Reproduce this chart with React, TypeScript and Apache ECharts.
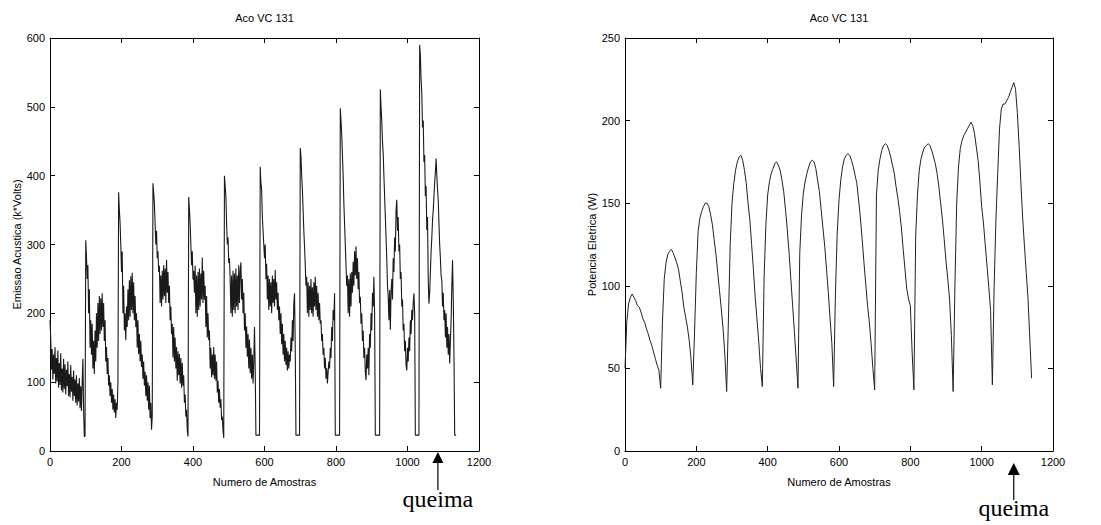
import React, { useEffect, useRef } from "react";
import * as echarts from "echarts";

// ---- data ----
const titulo = "Aco VC 131";
const eixoX = "Numero de Amostras";
const eixoYEsq = "Emissao Acustica (k*Volts)";
const eixoYDir = "Potencia Eletrica (W)";
const anotacao = "queima";

const xMin = 0;
const xMax = 1200;
const xInterval = 200;
const yEsqMax = 600;
const yEsqInterval = 100;
const yDirMax = 250;
const yDirInterval = 50;

// sample number of each arrow
const queimaEsq = 1085;
const queimaDir = 1090;

// Emissao acustica, one value every 2 samples (sample 0, 2, 4, ...)
const passoEmissao = 2;
const emissaoAcustica = [
  190, 165, 118, 148, 104, 140, 112, 151, 98, 135,
  101, 146, 92, 128, 96, 142, 88, 120, 85, 134,
  90, 126, 82, 118, 94, 130, 80, 112, 78, 125,
  86, 108, 73, 117, 80, 104, 70, 110, 66, 98,
  72, 106, 62, 94, 58, 100, 134, 60, 21, 21,
  306, 283, 250, 270, 200, 235, 150, 190, 140, 185,
  120, 160, 112, 175, 130, 200, 150, 215, 160, 225,
  170, 222, 175, 229, 180, 215, 160, 190, 130, 151,
  112, 135, 95, 110, 80, 100, 70, 90, 60, 82,
  56, 75, 48, 70, 60, 100, 376, 350, 332, 300,
  260, 290, 200, 240, 175, 200, 161, 210, 180, 235,
  190, 248, 195, 254, 205, 259, 200, 245, 190, 225,
  180, 200, 150, 190, 141, 170, 130, 160, 122, 140,
  105, 130, 95, 115, 80, 110, 73, 100, 60, 95,
  48, 70, 31, 50, 389, 376, 360, 330, 300, 320,
  280, 290, 260, 269, 215, 255, 210, 262, 220, 270,
  225, 265, 215, 278, 230, 260, 215, 240, 190, 210,
  170, 185, 136, 180, 130, 165, 120, 151, 102, 145,
  110, 141, 98, 135, 92, 128, 95, 110, 70, 82,
  50, 60, 30, 21, 369, 352, 330, 300, 270, 290,
  249, 262, 230, 269, 200, 255, 195, 260, 205, 265,
  210, 258, 220, 281, 215, 262, 220, 240, 180, 225,
  165, 200, 161, 175, 120, 150, 107, 140, 110, 151,
  105, 140, 102, 130, 85, 102, 70, 90, 63, 75,
  45, 50, 30, 19, 400, 385, 370, 330, 300, 310,
  273, 280, 249, 200, 255, 195, 262, 205, 258, 200,
  265, 210, 255, 205, 270, 215, 262, 274, 220, 250,
  200, 230, 175, 200, 150, 181, 137, 170, 120, 162,
  113, 150, 105, 140, 98, 130, 180, 120, 23, 23,
  23, 23, 23, 23, 413, 390, 379, 340, 320, 300,
  280, 300, 250, 272, 220, 255, 205, 250, 210, 245,
  200, 255, 215, 250, 210, 263, 220, 245, 205, 230,
  190, 210, 170, 200, 155, 185, 140, 170, 130, 160,
  125, 150, 117, 145, 120, 140, 130, 165, 145, 190,
  160, 215, 229, 150, 23, 23, 23, 23, 23, 23,
  440, 428, 400, 380, 350, 320, 297, 270, 240, 253,
  200, 245, 195, 240, 205, 250, 200, 238, 195, 245,
  210, 253, 205, 240, 195, 230, 190, 215, 185, 190,
  160, 170, 140, 150, 120, 135, 105, 120, 98, 115,
  130, 120, 150, 135, 180, 160, 205, 190, 229, 23,
  23, 23, 23, 23, 23, 23, 498, 480, 460, 430,
  400, 360, 330, 300, 270, 240, 255, 200, 250, 195,
  258, 210, 260, 230, 275, 240, 290, 255, 297, 250,
  280, 235, 260, 215, 224, 185, 200, 160, 175, 135,
  150, 115, 103, 140, 120, 150, 110, 170, 150, 200,
  175, 230, 210, 253, 200, 23, 23, 23, 23, 23,
  23, 23, 525, 500, 480, 450, 433, 400, 370, 340,
  310, 280, 240, 224, 190, 234, 176, 230, 250, 220,
  280, 260, 310, 290, 350, 365, 320, 340, 290, 300,
  250, 260, 210, 220, 175, 185, 145, 160, 125, 117,
  150, 130, 165, 145, 190, 170, 205, 190, 215, 229,
  200, 23, 23, 23, 23, 23, 23, 590, 575, 540,
  520, 470, 480, 420, 430, 370, 385, 321, 340, 250,
  214, 230, 260, 290, 310, 335, 350, 370, 390, 405,
  425, 400, 380, 365, 330, 300, 280, 255, 248, 210,
  230, 190, 205, 165, 200, 150, 180, 140, 170, 127,
  160, 190, 240, 277, 220, 140, 23, 23, 23,
];

// Potencia eletrica, one value every 5 samples (sample 0, 5, 10, ...)
const passoPotencia = 5;
const potenciaEletrica = [
  50, 78, 89, 93, 95, 93, 91, 88, 87, 84,
  80, 78, 74, 71, 67, 64, 60, 56, 52, 49,
  38, 78, 104, 114, 119, 121, 122, 120, 117, 114,
  110, 103, 96, 87, 81, 75, 67, 56, 40, 72,
  108, 133, 141, 145, 148, 150, 150, 148, 143, 137,
  128, 119, 108, 97, 86, 74, 58, 36, 80, 125,
  150, 162, 170, 175, 178, 179, 176, 170, 162, 150,
  140, 125, 110, 93, 80, 66, 50, 39, 105, 137,
  155, 163, 168, 171, 174, 175, 173, 170, 164, 157,
  146, 134, 120, 104, 88, 72, 55, 38, 120, 143,
  156, 163, 168, 172, 175, 176, 175, 171, 164, 157,
  146, 135, 124, 110, 96, 80, 65, 39, 95, 132,
  152, 164, 172, 177, 179, 180, 179, 176, 172, 167,
  162, 152, 141, 128, 114, 101, 88, 78, 65, 50,
  37, 155, 170, 177, 182, 185, 186, 185, 182, 178,
  173, 168, 160, 153, 145, 135, 122, 110, 98, 92,
  88, 60, 37, 130, 155, 170, 177, 181, 184, 185,
  186, 185, 182, 178, 174, 168, 160, 150, 140, 128,
  115, 104, 92, 70, 36, 100, 150, 172, 183, 188,
  191, 193, 195, 197, 199, 197, 192, 184, 176, 163,
  148, 138, 125, 112, 99, 85, 40, 100, 140, 168,
  195, 207, 210, 210, 212, 214, 217, 220, 223, 219,
  205, 185, 162, 141, 124, 108, 92, 68, 44,
];

const FONT = "'Liberation Sans', Arial, Helvetica, sans-serif";
const SERIF = "'Liberation Serif', 'Times New Roman', serif";

export default function App() {
  const ref = useRef<HTMLDivElement>(null);

  useEffect(() => {
    if (!ref.current) return;
    const chart = echarts.init(ref.current, null, { renderer: "svg" });

    const toPairs = (arr: number[], step: number) => arr.map((v, i) => [i * step, v]);

    const line = { show: true, onZero: false, lineStyle: { color: "#000", width: 1 } };
    const tick = { show: true, inside: true, length: 5, lineStyle: { color: "#000", width: 1 } };
    const label = {
      color: "#000", fontFamily: FONT, fontSize: 11, margin: 5,
      formatter: (v: number) => String(v),
    };

    const xAxisPair = (grid: number) => [
      {
        type: "value", gridIndex: grid, position: "bottom",
        min: xMin, max: xMax, interval: xInterval,
        axisLine: line, axisTick: tick, axisLabel: label, splitLine: { show: false },
        name: eixoX, nameLocation: "middle", nameGap: 25,
        nameTextStyle: { color: "#000", fontFamily: FONT, fontSize: 11 },
      },
      {
        type: "value", gridIndex: grid, position: "top",
        min: xMin, max: xMax, interval: xInterval,
        axisLine: line, axisTick: tick, axisLabel: { show: false }, splitLine: { show: false },
      },
    ];
    const yAxisPair = (grid: number, max: number, interval: number, name: string, gap: number) => [
      {
        type: "value", gridIndex: grid, position: "left",
        min: 0, max, interval,
        axisLine: line, axisTick: tick, axisLabel: label, splitLine: { show: false },
        name, nameLocation: "middle", nameGap: gap,
        nameTextStyle: { color: "#000", fontFamily: FONT, fontSize: 11 },
      },
      {
        type: "value", gridIndex: grid, position: "right",
        min: 0, max, interval,
        axisLine: line, axisTick: tick, axisLabel: { show: false }, splitLine: { show: false },
      },
    ];

    chart.setOption({
      animation: false,
      backgroundColor: "#fff",
      grid: [
        { left: 50, top: 38, width: 429, height: 413 },
        { left: 625, top: 38, width: 428, height: 413 },
      ],
      xAxis: [...xAxisPair(0), ...xAxisPair(1)],
      yAxis: [
        ...yAxisPair(0, yEsqMax, yEsqInterval, eixoYEsq, 28),
        ...yAxisPair(1, yDirMax, yDirInterval, eixoYDir, 26),
      ],
      series: [
        {
          type: "line", xAxisIndex: 0, yAxisIndex: 0,
          data: toPairs(emissaoAcustica, passoEmissao),
          showSymbol: false, symbol: "none",
          lineStyle: { color: "#1a1a1a", width: 1.1 },
        },
        {
          type: "line", xAxisIndex: 2, yAxisIndex: 2,
          data: toPairs(potenciaEletrica, passoPotencia),
          showSymbol: false, symbol: "none",
          lineStyle: { color: "#222", width: 1 },
        },
      ],
    });

    const xl = chart.convertToPixel({ xAxisIndex: 0 }, queimaEsq) as number;
    const yl = chart.convertToPixel({ yAxisIndex: 0 }, 0) as number;
    const xr = chart.convertToPixel({ xAxisIndex: 2 }, queimaDir) as number;
    const yr = chart.convertToPixel({ yAxisIndex: 2 }, 0) as number;
    const cxl = chart.convertToPixel({ xAxisIndex: 0 }, (xMin + xMax) / 2) as number;
    const cxr = chart.convertToPixel({ xAxisIndex: 2 }, (xMin + xMax) / 2) as number;

    const arrow = (x: number, tipY: number, baseY: number, endY: number, half: number) => [
      { type: "polygon", shape: { points: [[x, tipY], [x - half, baseY], [x + half, baseY]] }, style: { fill: "#000" } },
      { type: "line", shape: { x1: x, y1: baseY, x2: x, y2: endY }, style: { stroke: "#000", lineWidth: 1.2 } },
    ];

    chart.setOption({
      graphic: [
        { type: "text", x: cxl, y: 18, style: { text: titulo, align: "center", verticalAlign: "middle", fill: "#000", font: `11px ${FONT}` } },
        { type: "text", x: cxr, y: 18, style: { text: titulo, align: "center", verticalAlign: "middle", fill: "#000", font: `11px ${FONT}` } },
        ...arrow(xl, yl + 1, yl + 12, yl + 39, 5.5),
        ...arrow(xr, yr + 12, yr + 24, yr + 49, 6),
        { type: "text", x: xl, y: yl + 48, style: { text: anotacao, align: "center", verticalAlign: "middle", fill: "#000", font: `24px ${SERIF}` } },
        { type: "text", x: xr, y: yr + 57, style: { text: anotacao, align: "center", verticalAlign: "middle", fill: "#000", font: `24px ${SERIF}` } },
      ],
    });

    return () => chart.dispose();
  }, []);

  return (
    <div
      ref={ref}
      style={{ position: "fixed", left: 0, top: 0, width: 1101, height: 525, background: "#fff" }}
    />
  );
}
